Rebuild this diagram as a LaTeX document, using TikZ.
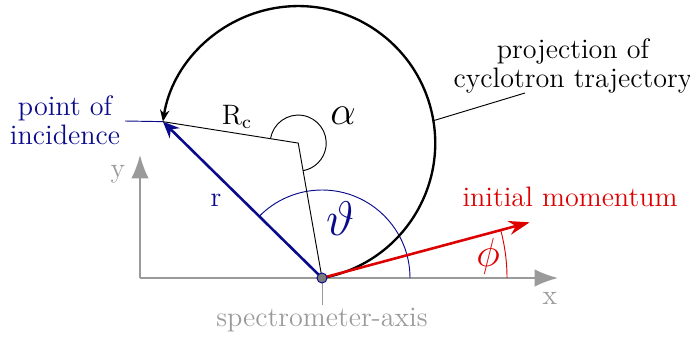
\documentclass[tikz,border=0pt]{standalone}
\usepackage{amsmath}
\usetikzlibrary{arrows.meta}
\definecolor{navy}{HTML}{0A0A8C}
\definecolor{axisgray}{HTML}{9A9A9A}
\definecolor{momred}{HTML}{DD0000}
\newcommand\lblfont{\fontsize{12}{12.2}\selectfont}
\tikzset{axisline/.style={draw=axisgray,line width=.8pt,-{Latex[length=10pt,width=7.5pt]}},traj/.style={draw=black,line width=1pt,-{Stealth[length=5pt,width=4pt]}},rvec/.style={draw=navy,line width=1.1pt,-{Stealth[length=7pt,width=6pt]}},mom/.style={draw=momred,line width=1.1pt,-{Stealth[length=9pt,width=6pt]}},graytext/.style={text=axisgray,font=\lblfont},label/.style={font=\lblfont,align=center}}

\begin{document}
\begin{tikzpicture}[x=0.015cm,y=0.015cm]
\useasboundingbox (0,0) rectangle (690,338);
% geometry
\coordinate (O) at (322,60);
\path (O) ++(100:137) coordinate (C);
\path (C) ++(171:137) coordinate (P);
\coordinate (orig) at (140,60);
\coordinate (xend) at (558,60);
\coordinate (yend) at (140,183);
\coordinate (tick) at (322,33);
% axes
\draw[axisline] (orig)--(xend);
\draw[axisline] (orig)--(yend);
\draw[axisgray,thin] (O)--(tick);
\node[graytext] (xlab) at (550,40) {x};
\node[graytext] (ylab) at (118,164) {y};
\node[graytext] (spec) at (322,18) {spectrometer-axis};
% angles
\draw[navy,thin] (O) ++(0:88) arc[start angle=0,end angle=136,radius=88];
\node[text=navy,font=\huge] (theta) at (341,119) {$\vartheta$};
\draw[momred,thin] (O) ++(0:185) arc[start angle=0,end angle=15,radius=185];
\node[text=momred,font=\LARGE] (phi) at (488,82) {$\phi$};
% trajectory
\draw[traj] (O) arc[start angle=-80,end angle=171,radius=137];
\draw[thin] (P)--(C)--(O);
\draw[thin] (C) ++(171:28) arc[start angle=171,end angle=-80,radius=28];
\node[font=\LARGE] (alpha) at (343,222) {$\alpha$};
\node[label] (rc) at (237,221) {R$_\text{c}$};
\path (C) ++(9.4:137) coordinate (T);
\coordinate (Tend) at (525,245);
\draw[thin] (T)--(Tend);
\node[label] (proj) at (573,272) {projection of\\cyclotron trajectory};
% vectors
\draw[rvec] (O)--(P);
\node[label,text=navy] (r) at (216,138) {r};
\coordinate (Pend) at (125,217);
\draw[navy,thin] (P)--(Pend);
\node[label,text=navy] (poi) at (65,218) {point of\\incidence};
\path (O) ++(15:215) coordinate (M);
\draw[mom] (O)--(M);
\node[label,text=momred] (init) at (570,141) {initial momentum};
\node[circle,fill=axisgray!80!black,draw=navy,inner sep=0pt,minimum size=4.3pt] (dot) at (O) {};
\end{tikzpicture}
\end{document}
